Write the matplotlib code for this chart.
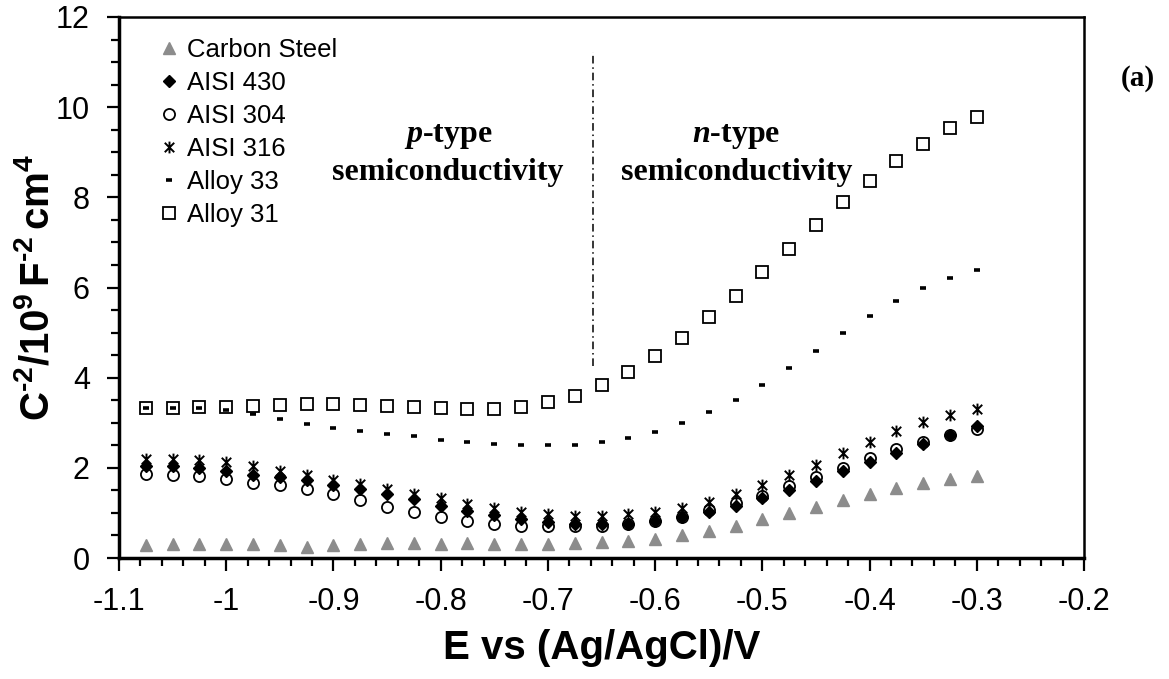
import numpy as np
import matplotlib
matplotlib.use("Agg")
import matplotlib.pyplot as plt
from matplotlib.ticker import MultipleLocator, FixedLocator, FixedFormatter
from matplotlib.path import Path

plt.rcParams['font.family'] = ['Liberation Sans', 'DejaVu Sans']
plt.rcParams['axes.unicode_minus'] = False
plt.rcParams['mathtext.fontset'] = 'custom'
plt.rcParams['mathtext.rm'] = 'Liberation Sans:bold'
plt.rcParams['mathtext.bf'] = 'Liberation Sans:bold'
plt.rcParams['mathtext.it'] = 'Liberation Sans:italic'
plt.rcParams['mathtext.bfit'] = 'Liberation Serif:italic:bold'

# ---------------- data ----------------
E = [-1.075, -1.05, -1.025, -1.0, -0.975, -0.95, -0.925, -0.9,
     -0.875, -0.85, -0.825, -0.8, -0.775, -0.75, -0.725, -0.7,
     -0.675, -0.65, -0.625, -0.6, -0.575, -0.55, -0.525, -0.5,
     -0.475, -0.45, -0.425, -0.4, -0.375, -0.35, -0.325, -0.3]

carbon_steel = [0.29, 0.30, 0.32, 0.32, 0.31, 0.29, 0.24, 0.28, 0.32, 0.34, 0.34, 0.32,
                0.33, 0.31, 0.31, 0.31, 0.33, 0.35, 0.38, 0.43, 0.51, 0.60, 0.72, 0.86,
                0.99, 1.14, 1.28, 1.42, 1.55, 1.66, 1.75, 1.81]
aisi430 = [2.04, 2.03, 1.99, 1.94, 1.85, 1.79, 1.73, 1.62, 1.53, 1.41, 1.30, 1.16,
           1.04, 0.95, 0.86, 0.79, 0.76, 0.76, 0.76, 0.83, 0.92, 1.03, 1.16, 1.33,
           1.51, 1.70, 1.92, 2.12, 2.33, 2.53, 2.73, 2.92]
aisi304 = [1.86, 1.84, 1.81, 1.76, 1.67, 1.62, 1.53, 1.41, 1.29, 1.14, 1.01, 0.90,
           0.82, 0.76, 0.72, 0.70, 0.70, 0.70, 0.76, 0.82, 0.92, 1.07, 1.21, 1.38,
           1.60, 1.79, 2.00, 2.21, 2.41, 2.58, 2.73, 2.86]
aisi316 = [2.19, 2.20, 2.18, 2.14, 2.04, 1.94, 1.84, 1.73, 1.64, 1.53, 1.42, 1.33,
           1.20, 1.12, 1.03, 0.97, 0.93, 0.93, 0.97, 1.03, 1.12, 1.25, 1.41, 1.61,
           1.83, 2.07, 2.33, 2.57, 2.81, 3.01, 3.18, 3.30]
alloy33 = [3.33, 3.33, 3.32, 3.29, 3.20, 3.08, 2.98, 2.88, 2.81, 2.76, 2.70, 2.62,
           2.58, 2.53, 2.50, 2.50, 2.51, 2.57, 2.66, 2.80, 2.99, 3.23, 3.51, 3.84,
           4.22, 4.60, 4.99, 5.36, 5.71, 5.99, 6.22, 6.38]
alloy31 = [3.33, 3.33, 3.34, 3.36, 3.38, 3.40, 3.42, 3.42, 3.40, 3.38, 3.35, 3.33,
           3.30, 3.30, 3.36, 3.45, 3.60, 3.83, 4.12, 4.47, 4.88, 5.34, 5.82, 6.34,
           6.86, 7.38, 7.89, 8.36, 8.81, 9.19, 9.53, 9.79]

series_labels = ['Carbon Steel', 'AISI 430', 'AISI 304', 'AISI 316', 'Alloy 33', 'Alloy 31']

x_major = [-1.1, -1.0, -0.9, -0.8, -0.7, -0.6, -0.5, -0.4, -0.3, -0.2]
x_major_labels = ['-1.1', '-1', '-0.9', '-0.8', '-0.7', '-0.6', '-0.5', '-0.4', '-0.3', '-0.2']
y_major = [0, 2, 4, 6, 8, 10, 12]

boundary_E = -0.658
boundary_y = [4.25, 11.22]

# ---------------- figure ----------------
fig = plt.figure(figsize=(11.69, 6.79), dpi=100)
ax = fig.add_axes([119/1169, 1 - 558/679, 965/1169, 541/679])

star = Path([(-1, -1), (1, 1), (-1, 1), (1, -1), (0, -1.25), (0, 1.25)],
            [Path.MOVETO, Path.LINETO, Path.MOVETO, Path.LINETO, Path.MOVETO, Path.LINETO])

ax.plot(E, carbon_steel, linestyle='none', marker='^', markersize=8,
        color='#8c8c8c', markeredgecolor='#8c8c8c', label=series_labels[0])
ax.plot(E, aisi430, linestyle='none', marker='D', markersize=6.5,
        color='black', label=series_labels[1])
ax.plot(E, aisi304, linestyle='none', marker='o', markersize=8,
        markerfacecolor='none', markeredgecolor='black', markeredgewidth=1.3,
        label=series_labels[2])
ax.plot(E, aisi316, linestyle='none', marker=star, markersize=8.5,
        markerfacecolor='none', markeredgecolor='black', markeredgewidth=1.4,
        label=series_labels[3])
ax.plot(E, alloy33, linestyle='none', marker='_', markersize=5,
        markeredgecolor='black', markeredgewidth=2.6, label=series_labels[4])
ax.plot(E, alloy31, linestyle='none', marker='s', markersize=8,
        markerfacecolor='none', markeredgecolor='black', markeredgewidth=1.3,
        label=series_labels[5])

ax.plot([boundary_E, boundary_E], boundary_y, color='black', linewidth=1.1,
        linestyle=(0, (5, 2.5, 1, 2.5)))

ax.set_xlim(-1.1, -0.2)
ax.set_ylim(0, 12)

ax.xaxis.set_major_locator(FixedLocator(x_major))
ax.xaxis.set_major_formatter(FixedFormatter(x_major_labels))
ax.xaxis.set_minor_locator(MultipleLocator(0.02))
ax.yaxis.set_major_locator(FixedLocator(y_major))
ax.yaxis.set_minor_locator(MultipleLocator(0.5))

ax.tick_params(axis='both', which='major', direction='out', length=9, width=1.6,
               labelsize=22, color='black')
ax.tick_params(axis='both', which='minor', direction='out', length=6, width=1.6,
               color='black')
ax.tick_params(axis='x', which='major', pad=12)
ax.tick_params(axis='y', which='major', pad=12)
ax.tick_params(top=False, right=False, which='both')

for name, s in ax.spines.items():
    s.set_color('black')
    s.set_linewidth(2.5 if name in ('left', 'bottom') else 1.8)

ax.set_xlabel('E vs (Ag/AgCl)/V', fontsize=29, fontweight='bold', va='center')
ax.xaxis.set_label_coords(0.5, -0.166)
ax.set_ylabel(r'$\mathrm{C^{\text{-}2}/10^{9}\,F^{\text{-}2}\,cm^{4}}$', fontsize=29, va='center')
ax.yaxis.set_label_coords(-0.085, 0.5)

txt_kw = dict(family='Liberation Serif', fontweight='bold', fontsize=23,
              ha='center', va='center')
ax.text(-0.793, 9.36, r'$\mathbfit{p}$-type', **txt_kw)
ax.text(-0.793, 8.54, 'semiconductivity', **txt_kw)
ax.text(-0.524, 9.36, r'$\mathbfit{n}$-type', **txt_kw)
ax.text(-0.524, 8.54, 'semiconductivity', **txt_kw)

fig.text(1138/1169, 1 - 78/679, '(a)', family='Liberation Serif', fontweight='bold',
         fontsize=21, ha='center', va='center')

leg = ax.legend(loc='upper left', bbox_to_anchor=(42/965, 1 - 21/541), frameon=False,
                fontsize=18.5, numpoints=1, handlelength=0.6, handletextpad=0.4,
                labelspacing=0.35, borderaxespad=0, borderpad=0)

fig.savefig('out.png', dpi=100)
